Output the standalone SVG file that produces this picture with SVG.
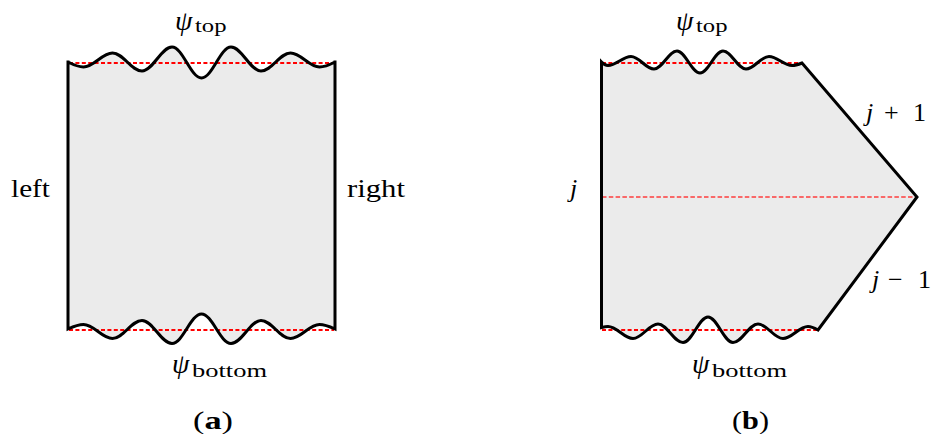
<svg xmlns="http://www.w3.org/2000/svg" width="932" height="434" viewBox="0 0 932 434">
<style>
.fill{fill:#ebebeb;stroke:none}
.outline{fill:none;stroke:#000;stroke-width:3;stroke-linejoin:miter}
.red{stroke:#ff0000;stroke-width:2.1;stroke-dasharray:4 2.4;fill:none}
.redmid{stroke:#ff3030;stroke-opacity:0.7;stroke-width:1.9;stroke-dasharray:4.5 2.3;fill:none}
text{font-family:"Liberation Serif","DejaVu Serif",serif;fill:#000}
.lbl{font-size:26px}
.it{font-style:italic}
.psi{font-size:28px;font-style:italic}
.sub{font-size:19px}
</style>
<g id="panel-a">
  <path id="a-shape" class="fill" d="M68,62 C73.1,64.6 77.9,67 83.5,67 C94.06,67 101.94,53 112.5,53 C123.24,53 131.26,71 142,71 C152.93,71 161.07,47 172,47 C182.74,47 190.76,78 201.5,78 C212.24,78 220.26,47 231,47 C241.93,47 250.07,71 261,71 C271.74,71 279.76,53 290.5,53 C301.06,53 308.94,67 319.5,67 C325.1,67 329.95,64.6 335,62 L335,329 C329.95,326.7 325.1,324.5 319.5,324.5 C308.94,324.5 301.06,338.5 290.5,338.5 C279.76,338.5 271.74,320.5 261,320.5 C250.07,320.5 241.93,343.5 231,343.5 C220.26,343.5 212.24,314 201.5,314 C190.76,314 182.74,343.5 172,343.5 C161.07,343.5 152.93,320.5 142,320.5 C131.26,320.5 123.24,338.5 112.5,338.5 C101.94,338.5 94.06,324.5 83.5,324.5 C77.9,324.5 73.05,326.7 68,329 Z"/>
  <line class="red" x1="69" y1="63" x2="334" y2="63"/>
  <line class="red" x1="69" y1="330" x2="334" y2="330"/>
  <path class="outline" d="M68,60.5 L68,62 C73.1,64.6 77.9,67 83.5,67 C94.06,67 101.94,53 112.5,53 C123.24,53 131.26,71 142,71 C152.93,71 161.07,47 172,47 C182.74,47 190.76,78 201.5,78 C212.24,78 220.26,47 231,47 C241.93,47 250.07,71 261,71 C271.74,71 279.76,53 290.5,53 C301.06,53 308.94,67 319.5,67 C325.1,67 329.95,64.6 335,62 L335,60.5 M335,62 L335,329 C329.95,326.7 325.1,324.5 319.5,324.5 C308.94,324.5 301.06,338.5 290.5,338.5 C279.76,338.5 271.74,320.5 261,320.5 C250.07,320.5 241.93,343.5 231,343.5 C220.26,343.5 212.24,314 201.5,314 C190.76,314 182.74,343.5 172,343.5 C161.07,343.5 152.93,320.5 142,320.5 C131.26,320.5 123.24,338.5 112.5,338.5 C101.94,338.5 94.06,324.5 83.5,324.5 C77.9,324.5 73.05,326.7 68,329 L68,62"/>
</g>
<g id="panel-b">
  <path id="b-shape" class="fill" d="M601.5,62 C603.6,64.3 605.65,65.5 608,65.5 C616.38,65.5 622.62,56.5 631,56.5 C639.38,56.5 645.62,69 654,69 C662.38,69 668.62,51 677,51 C685.38,51 691.62,73 700,73 C708.38,73 714.62,51 723,51 C731.38,51 737.62,69 746,69 C754.38,69 760.62,56.5 769,56.5 C777.38,56.5 783.62,65.5 792,65.5 C795.62,65.5 798.74,64.3 802,63 L917,197 L818,330 C814.74,328.2 811.62,326.5 808,326.5 C798.9,326.5 792.1,338.5 783,338.5 C773.9,338.5 767.1,324 758,324 C748.9,324 742.1,342.5 733,342.5 C723.9,342.5 717.1,317 708,317 C698.9,317 692.1,342.5 683,342.5 C673.9,342.5 667.1,324 658,324 C648.9,324 642.1,338.5 633,338.5 C623.9,338.5 617.1,326.5 608,326.5 C605.65,326.5 603.6,327 601.5,327.5 Z"/>
  <line class="red" x1="602" y1="63" x2="801" y2="63"/>
  <line class="red" x1="602" y1="330" x2="817" y2="330"/>
  <line class="redmid" x1="602" y1="197" x2="916" y2="197"/>
  <path class="outline" d="M601.5,62 C603.6,64.3 605.65,65.5 608,65.5 C616.38,65.5 622.62,56.5 631,56.5 C639.38,56.5 645.62,69 654,69 C662.38,69 668.62,51 677,51 C685.38,51 691.62,73 700,73 C708.38,73 714.62,51 723,51 C731.38,51 737.62,69 746,69 C754.38,69 760.62,56.5 769,56.5 C777.38,56.5 783.62,65.5 792,65.5 C795.62,65.5 798.74,64.3 802,63 L917,197 L818,330 C814.74,328.2 811.62,326.5 808,326.5 C798.9,326.5 792.1,338.5 783,338.5 C773.9,338.5 767.1,324 758,324 C748.9,324 742.1,342.5 733,342.5 C723.9,342.5 717.1,317 708,317 C698.9,317 692.1,342.5 683,342.5 C673.9,342.5 667.1,324 658,324 C648.9,324 642.1,338.5 633,338.5 C623.9,338.5 617.1,326.5 608,326.5 C605.65,326.5 603.6,327 601.5,327.5 Z"/>
</g>
<g id="labels-a">
  <text class="lbl" x="175" y="30"><tspan class="psi">ψ</tspan><tspan class="sub" x="195" y="32" textLength="31.5" lengthAdjust="spacingAndGlyphs">top</tspan></text>
  <text class="lbl" x="172" y="373"><tspan class="psi">ψ</tspan><tspan class="sub" x="192" y="376.5" textLength="75" lengthAdjust="spacingAndGlyphs">bottom</tspan></text>
  <text class="lbl" x="11" y="197" textLength="39" lengthAdjust="spacingAndGlyphs">left</text>
  <text class="lbl" x="347" y="197" textLength="58" lengthAdjust="spacingAndGlyphs">right</text>
  <text class="lbl" x="193" y="429" textLength="40" lengthAdjust="spacingAndGlyphs">(<tspan font-weight="bold">a</tspan>)</text>
</g>
<g id="labels-b">
  <text class="lbl" x="676" y="30"><tspan class="psi">ψ</tspan><tspan class="sub" x="696" y="32" textLength="31.5" lengthAdjust="spacingAndGlyphs">top</tspan></text>
  <text class="lbl" x="692" y="373"><tspan class="psi">ψ</tspan><tspan class="sub" x="712" y="376.5" textLength="75" lengthAdjust="spacingAndGlyphs">bottom</tspan></text>
  <text class="lbl it" x="570" y="197">j</text>
  <text class="lbl" x="866" y="121"><tspan class="it">j</tspan><tspan x="884">+</tspan><tspan x="913">1</tspan></text>
  <text class="lbl" x="872" y="288"><tspan class="it">j</tspan><tspan x="888">−</tspan><tspan x="918">1</tspan></text>
  <text class="lbl" x="732" y="429" textLength="37" lengthAdjust="spacingAndGlyphs">(<tspan font-weight="bold">b</tspan>)</text>
</g>
</svg>
